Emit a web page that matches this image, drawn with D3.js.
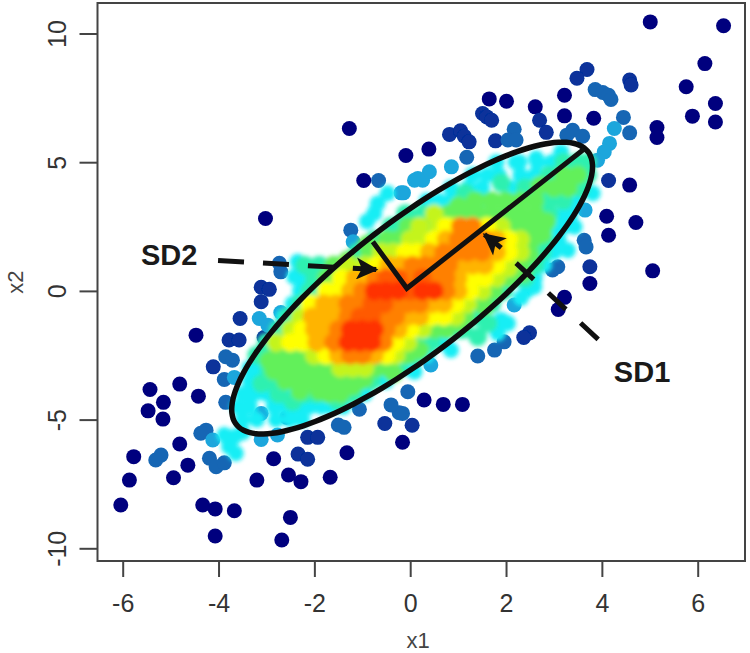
<!DOCTYPE html>
<html lang="en">
<head>
<meta charset="utf-8">
<title>SD1 SD2 scatter</title>
<script src="https://cdn.jsdelivr.net/npm/d3@7"></script>
<style>
  body { margin: 0; background: #fff; }
  text { font-family: "Liberation Sans", Arial, sans-serif; }
  .tick text { font-size: 25px; fill: #333; }
  .tick line { stroke: #444; stroke-width: 2px; }
  .lab { font-size: 22px; fill: #444; }
  .note { font-size: 29px; font-weight: bold; fill: #1a1a1a; }
</style>
</head>
<body>
<div id="chart"></div>
<script>
// all point lists are [x1, x2], one list per density step
const darkPts = [[-1.27,6.31],[-0.09,5.26],[-0.97,4.29],[-3.02,2.81],[5.01,10.45],[6.54,10.3],[6.15,8.83],[5.76,7.93],[6.37,7.28],[5.89,6.79],[6.37,6.56],[5.15,6.35],[5.15,5.96],[4.58,4.11],[4.71,2.66],[4.1,2.9],[4.14,2.16],[5.06,0.78],[3.75,0.29],[3.22,-0.25],[3.09,-0.72],[0.29,-4.24],[0.69,-4.41],[1.09,-4.41],[-0.16,-5.88],[-1.32,-6.29],[-1.67,-7.24],[-2.85,-6.52],[-3.2,-7.35],[-2.5,-8.8],[-2.68,-9.68],[-3.67,-8.54],[-4.07,-8.47],[-4.33,-8.32],[-4.07,-9.52],[-6.04,-8.32],[-5.86,-7.35],[-5.77,-6.44],[-4.94,-7.26],[-4.64,-6.77],[-4.81,-5.95],[-4.47,-1.72],[-4.81,-3.62],[-5.43,-3.83],[-5.15,-4.33],[-5.47,-4.66],[-5.16,-4.98],[-4.42,-4.09],[-2.28,-7.41],[-2.54,-7.15],[3.22,7.6],[3.22,6.8],[3.83,6.71],[2.61,7.15],[2.01,7.37],[1.65,7.46],[0.39,5.51]];
const navyPts = [[3.69,8.6],[3.48,8.26],[4.58,8.19],[4.61,8.0],[2.7,6.63],[2.84,6.16],[1.78,5.83],[0.82,6.08],[1.05,6.22],[1.13,6.01],[1.23,5.79],[1.51,6.89],[1.6,6.76],[1.7,6.63],[4.14,4.29],[3.75,0.94],[2.49,-1.63],[2.37,-1.81],[0.04,-5.22],[-0.53,-5.15],[-2.14,-5.69],[-1.93,-5.69],[-2.34,-6.34],[-2.14,-6.54],[-4.11,-2.95],[-3.78,-1.91],[-3.57,-1.91],[-3.55,-1.07],[-3.05,-1.81],[-3.11,-0.42],[-3.11,0.14],[-2.94,0.06]];
const midPts = [[3.86,7.82],[4.02,7.71],[4.14,7.6],[4.19,7.44],[4.45,6.74],[4.58,6.14],[3.39,6.24],[3.27,6.05],[3.6,6.01],[2.17,6.28],[2.04,5.86],[2.21,5.86],[1.18,5.19],[-0.66,4.29],[-1.24,2.36],[-2.73,1.07],[-2.7,0.74],[3.08,0.94],[2.97,0.81],[1.96,-1.98],[1.76,-2.3],[1.41,-2.53],[-0.05,-3.92],[-0.16,-4.76],[-0.23,-4.73],[-0.4,-4.43],[-1.5,-5.21],[-1.38,-5.3],[-1.06,-4.6],[-5.2,-6.38],[-5.31,-6.57],[-4.26,-5.41],[-4.37,-5.53],[-3.85,-2.56],[-3.71,-2.69],[-3.88,-3.44],[-3.85,-4.33],[-4.19,-6.5],[-4.05,-6.83],[-3.88,-6.68],[-2.58,-4.91],[3.63,1.97],[3.67,1.71]];
const lightPts = [[4.26,6.31],[4.16,5.73],[4.05,5.4],[3.91,5.08],[0.86,4.82],[0.4,4.63],[0.26,4.3],[0.09,4.3],[-0.14,3.81],[-0.19,3.81],[0.16,4.37],[-1.19,1.91],[3.65,3.14],[2.17,-0.55],[0.43,-2.88],[-3.67,-3.36],[-3.15,-1.07],[-2.97,-1.33],[-2.7,-0.84],[-3.11,-4.76],[-3.11,-5.77],[-2.77,-5.6],[-4.12,-5.79]];
const cyanPts = [[3.15,5.4],[2.63,5.15],[2.28,5.01],[3.81,3.79],[3.43,2.49],[3.29,1.58],[2.45,0.03],[2.59,0.16],[2.31,-0.28],[1.9,-1.13],[2.04,-1.26],[1.83,-1.65],[0.85,-2.3],[0.09,-3.14],[-0.75,3.01],[-0.68,3.4],[-0.47,3.79],[-2.35,1.13],[-2.42,0.55],[-3.88,-5.6],[-3.67,-5.67],[-3.78,-6.05],[-3.64,-6.31],[-3.5,-5.5],[-0.9,2.7],
  [1.8,5],[2.2,5],[2.65,5],[2.95,5],[1.3,4.5],[1.6,4.5],[1.85,4.5],[2.3,4.5],[2.6,4.5],[0.85,4],[1.2,4],[1.5,4],[2.1,4],[0.35,3.5],[0.6,3.5],[0.85,3.5],[3.45,3.5],[3.35,3],[3.2,3],[3.2,2.5],[3.05,2.5],[-1.5,0.5],[-3.35,-3],[-3.2,-3],[-3.35,-3.5],[-3.1,-3.5],[-3.5,-4],[-3.25,-4],[-3,-4],[-2.5,-4],[-3.6,-4.5],[-3.35,-4.5],[-2.85,-4.5],[-2.6,-4.5],[-2.35,-4.5],[-2.1,-4.5],[-1.85,-4.5],[-1.65,-4.5],[-1.4,-4.5],[-3.5,-5],[-3.2,-5],[-2.8,-5],[-2.5,-5],[-2.25,-5],[-2.3,0.5],[-2.3,0],[-2,0],[-2.45,-0.5],[-2.65,-1],[3.1,2],[3,1.5],[2.8,1],[2.6,0.5],[0.7,-2],[0.35,-2.5],[-0.05,-3],[-0.5,-3.5],[-0.95,-4]];
const springPts = [[1.41,-1.78],[1.62,-1.26],[3.2,5],[3.5,5],[3.7,5],[2.9,4.5],[3.7,4.5],[2.4,4],[2.7,4],[3.55,4],[1.1,3.5],[1.4,3.5],[2.9,3.5],[3.2,3.5],[-0.1,3],[0.25,3],[0.5,3],[2.9,3],[-0.4,2.5],[-0.15,2.5],[2.8,2.5],[-0.75,2],[2.8,2],[-1.1,1.5],[2.55,1.5],[2.75,1.5],[-1.45,1],[2.5,0.9],[2.25,0.5],[1.95,0],[1.45,-0.5],[1.7,-0.5],[1.4,-1],[1,-1.5],[1.1,-1.5],[0.2,-2],[0.45,-2],[-3,-2],[-2.75,-1.5],[-2.55,-1],[-2.3,-0.5],[-3.2,-2.5],[-3,-2.5],[0.1,-2.5],[-2.95,-3],[-0.25,-3],[-2.85,-3.5],[-0.8,-3.5],[-2.75,-4],[-2.2,-4],[-1.95,-4],[-1.2,-4],[-2.2,1],[-1.9,1],[-2,0.5],[-2.1,0],[2.6,1],[2.4,0.5],[2.95,4.2],[1.9,4.2],[1.15,3.8],[-3.1,-3.6],[-2.45,-4.3],[-1.5,-4.3]];
const greenPts = [[3.2,4.5],[3.5,4.5],[3,4],[3.3,4],[1.7,3.5],[2,3.5],[2.3,3.5],[2.6,3.5],[0.8,3],[1.1,3],[1.4,3],[1.7,3],[2,3],[2.3,3],[2.6,3],[0.1,2.5],[0.35,2.5],[2.2,2.5],[2.5,2.5],[-0.5,2],[-0.25,2],[2.55,2],[-0.85,1.5],[2.3,1.5],[-1.2,1],[-1.6,1],[2.3,1],[2.05,0.5],[-1.75,0.5],[1.75,0],[1.15,-1],[0.5,-1.5],[0.75,-1.5],[-2.75,-2.5],[-2.5,-2.5],[-2.25,-2.5],[-0.05,-2.5],[-2.7,-3],[-2.45,-3],[-2.2,-3],[-1.95,-3],[-1.7,-3],[-0.7,-3],[-0.45,-3],[-2.6,-3.5],[-2.3,-3.5],[-2.05,-3.5],[-1.8,-3.5],[-1.55,-3.5],[-1.3,-3.5],[-1.05,-3.5],[-1.7,-4],[-1.45,-4],
  [2.7,4.1],[1.35,3.5],[1,3.3],[0.55,2.9],[-0.05,2.5],[2.85,2.7],[2.75,2.2],[-0.9,1.8],[2.5,1.4],[-1.3,1.2],[2.35,0.7],[1.55,-0.6],[1.05,-1.25],[-2.95,-2.7],[-2.85,-3.1],[-0.35,-3.2],[-2.3,-3.9],[-1.9,-3.9],[-1.2,-3.7],[-0.95,-3.4],[0.2,-2.3]];
const limePts = [[0.6,2.5],[0.9,2.5],[0.2,2.5],[1.9,2.5],[0,2],[0.25,2],[2.3,2],[-0.6,1.5],[-0.35,1.5],[2.3,1.5],[-0.95,1],[2.05,0.9],[-1.25,0.5],[1.8,0.5],[-1.75,0],[1.5,0],[1.2,-0.5],[-2.3,-1],[0.95,-1],[-2.5,-1.5],[0.25,-1.5],[-2.8,-2],[-0.05,-2],[-2,-2.5],[-0.3,-2.5],[-1.45,-3],[-1.2,-3],[-0.95,-3],[-1.3,1],[0.5,3]];
const yellowPts = [[0.75,2.5],[1.6,2.5],[0.5,2],[2.05,2],[-0.1,1.5],[0.15,1.5],[2.05,1.5],[-0.7,1],[1.8,1],[-1,0.5],[1.3,0.5],[1.55,0.5],[-1.5,0],[1.25,0],[-2.05,-0.5],[0.95,-0.5],[0.45,-1],[0.7,-1],[-2.25,-1.5],[0,-1.5],[-2.5,-2],[-2.25,-2],[-0.3,-2],[-1.75,-2.5],[-0.5,-2.5],[-1.45,0.5],[-1.75,0],[-2.1,-0.5]];
const paleOrangePts = [[0.75,2],[1.8,2],[0.4,1.5],[1.8,1.5],[-0.45,1],[-0.2,1],[1.05,1],[1.3,1],[1.55,1],[1,0.5],[-1.25,0],[1,0],[-1.8,-0.5],[-1.55,-0.5],[0.45,-0.5],[0.7,-0.5],[-2.05,-1],[-1.8,-1],[-1.55,-1],[-0.05,-1],[0.2,-1],[-2,-1.5],[-1.75,-1.5],[-0.25,-1.5],[-1.95,-2],[-1.5,-2.5],[-0.75,-2.5],[-1.15,0.5]];
const orangePts = [[1.05,2.5],[1.3,2.5],[1,2],[1.3,2],[1.55,2],[0.7,1.5],[0.95,1.5],[1.2,1.5],[1.5,1.5],[0.05,1],[0.3,1],[0.55,1],[0.8,1],[-0.75,0.5],[0,0.5],[0.5,0.5],[0.75,0.5],[-1,0],[0.75,0],[-1.3,-0.5],[-1.05,-0.5],[-0.3,-0.5],[-0.05,-0.5],[0.2,-0.5],[-1.3,-1],[-0.55,-1],[-0.3,-1],[-1.5,-1.5],[-0.5,-1.5],[-1.6,-2],[-0.55,-2],[-1.25,-2.5],[-1,-2.5]];
const redOrangePts = [[-0.5,0.5],[-0.25,0.5],[0.25,0.5],[0,0],[-0.8,-0.5],[-0.55,-0.5],[-1.05,-1],[-0.8,-1]];
const redPts = [[-0.75,0],[-0.5,0],[-0.25,0],[0.25,0],[0.5,0],[-1.25,-1.5],[-1,-1.5],[-0.75,-1.5],[-1.3,-2],[-1.05,-2],[-0.8,-2]];

const densitySteps = [0, 0.08, 0.18, 0.28, 0.35, 0.45, 0.55, 0.64, 0.72, 0.8, 0.88, 0.94, 1];
const pointLists = [darkPts, navyPts, midPts, lightPts, cyanPts, springPts, greenPts, limePts, yellowPts, paleOrangePts, orangePts, redOrangePts, redPts];

const xTicks = [-6, -4, -2, 0, 2, 4, 6];
const yTicks = [-10, -5, 0, 5, 10];

// fitted ellipse and its two axes, in data units
const ellipseCentre = [0.04, 0.11];
const sd1Vector = [3.67, 5.3];
const sd2Vector = [-0.84, 2.01];
const axisX = [-0.78, -0.07, 3.63];
const axisY = [1.91, 0.1, 5.51];

// annotation leaders: [x1, x2] from, to
const sd2Leader = [[-4.01, 1.18], [-0.71, 0.83]];
const sd1Leader = [[2.21, 1.08], [3.94, -1.91]];
const sd1Arrow = [[1.9, 1.67], [1.55, 2.19]];

const width = 750, height = 653;
const frame = { left: 97.5, right: 745, top: 3, bottom: 561 };

const x = d3.scaleLinear().domain([-6, 6]).range([122.7, 697.7]);
const y = d3.scaleLinear().domain([-10, 10]).range([548.3, 33.5]);
const colour = d3.scaleLinear()
  .domain(densitySteps)
  .range(["#00007e", "#07309a", "#1566b4", "#1fa6dc", "#12eef5", "#2ff0b0", "#62f05a", "#c4f41e", "#ffff00", "#ffb400", "#ff8000", "#ff5a00", "#ff3200"]);

const svg = d3.select("#chart").append("svg")
  .attr("width", width).attr("height", height)
  .style("display", "block");

const defs = svg.append("defs");
defs.append("filter").attr("id", "soft").append("feGaussianBlur").attr("stdDeviation", 0.7);
defs.append("filter").attr("id", "softer").append("feGaussianBlur").attr("stdDeviation", 2.2);
defs.append("marker").attr("id", "head")
  .attr("viewBox", "0 0 10 10").attr("refX", 9).attr("refY", 5)
  .attr("markerUnits", "userSpaceOnUse").attr("markerWidth", 24).attr("markerHeight", 22)
  .attr("orient", "auto")
  .append("path").attr("d", "M0,0L10,5L0,10L2.5,5Z").attr("fill", "#111");

// points, low density first so the hot colours sit on top
const outer = svg.append("g").attr("filter", "url(#soft)");
const inner = svg.append("g").attr("filter", "url(#softer)");
pointLists.forEach((pts, i) => {
  (i < 4 ? outer : inner).selectAll(null)
    .data(pts)
    .join("circle")
    .attr("cx", d => x(d[0]))
    .attr("cy", d => y(d[1]))
    .attr("r", i < 4 ? 7.5 : i === 4 ? 8 : 9.5)
    .attr("fill", colour(densitySteps[i]));
});

// ellipse
const ellipseLine = d3.line()
  .x(t => x(ellipseCentre[0] + sd1Vector[0] * Math.cos(t) + sd2Vector[0] * Math.sin(t)))
  .y(t => y(ellipseCentre[1] + sd1Vector[1] * Math.cos(t) + sd2Vector[1] * Math.sin(t)))
  .curve(d3.curveCardinalClosed);
svg.append("path")
  .attr("d", ellipseLine(d3.range(0, 2 * Math.PI, 0.08)))
  .attr("fill", "none").attr("stroke", "#0d0d0d").attr("stroke-width", 5.5);

// SD1 / SD2 axes
const pairLine = d3.line().x(d => x(d[0])).y(d => y(d[1]));
svg.append("path")
  .attr("d", pairLine(d3.zip(axisX, axisY)))
  .attr("fill", "none").attr("stroke", "#111").attr("stroke-width", 5);

svg.append("path").attr("d", pairLine(sd2Leader))
  .attr("fill", "none").attr("stroke", "#111").attr("stroke-width", 5)
  .attr("stroke-dasharray", "26,19").attr("marker-end", "url(#head)");
svg.append("path").attr("d", pairLine(sd1Leader))
  .attr("fill", "none").attr("stroke", "#111").attr("stroke-width", 5)
  .attr("stroke-dasharray", "24,20");
svg.append("path").attr("d", pairLine(sd1Arrow))
  .attr("fill", "none").attr("stroke", "#111").attr("stroke-width", 5)
  .attr("marker-end", "url(#head)");

svg.append("text").attr("class", "note").attr("x", x(-5.62)).attr("y", y(1)).text("SD2");
svg.append("text").attr("class", "note").attr("x", x(4.25)).attr("y", y(-3.54)).text("SD1");

// frame and axes
svg.append("rect")
  .attr("x", frame.left).attr("y", frame.top)
  .attr("width", frame.right - frame.left).attr("height", frame.bottom - frame.top)
  .attr("fill", "none").attr("stroke", "#444").attr("stroke-width", 2);

const xAxis = svg.append("g")
  .attr("transform", `translate(0,${frame.bottom})`)
  .call(d3.axisBottom(x).tickValues(xTicks).tickSize(16).tickPadding(17).tickFormat(d => String(d)));
xAxis.select(".domain").remove();

const yAxis = svg.append("g")
  .attr("transform", `translate(${frame.left},0)`)
  .call(d3.axisLeft(y).tickValues(yTicks).tickSize(18).tickFormat(d => String(d)));
yAxis.select(".domain").remove();
yAxis.selectAll("text")
  .attr("transform", "rotate(-90,-32,0)")
  .attr("x", -32).attr("y", 0).attr("dy", 0)
  .attr("text-anchor", "middle");

svg.append("text").attr("class", "lab").attr("x", 418).attr("y", 648)
  .attr("text-anchor", "middle").text("x1");
svg.append("text").attr("class", "lab").attr("transform", "translate(23,282) rotate(-90)")
  .attr("text-anchor", "middle").text("x2");
</script>
</body>
</html>
